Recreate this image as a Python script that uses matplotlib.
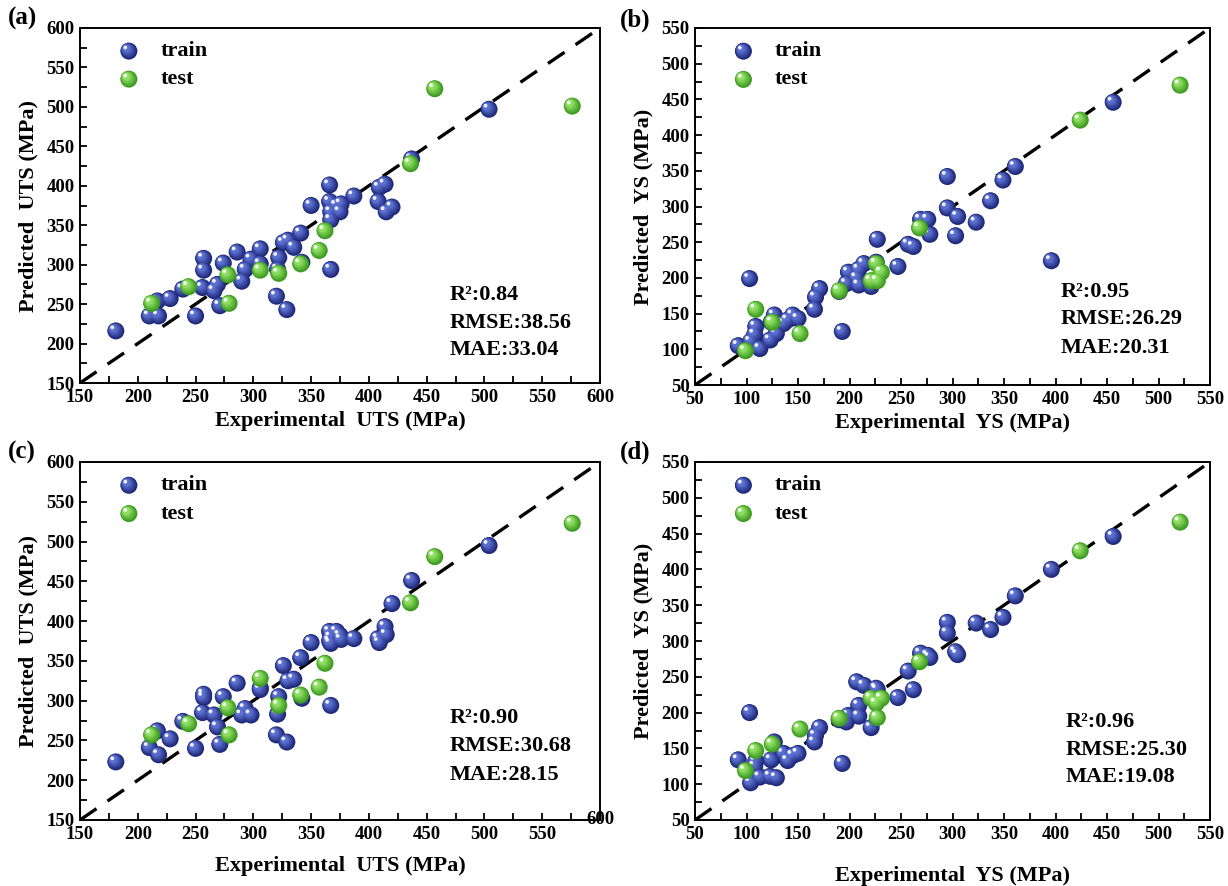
import numpy as np
import matplotlib
matplotlib.use("Agg")
import matplotlib.pyplot as plt
import matplotlib.colors as mcolors
from matplotlib.transforms import offset_copy

plt.rcParams['font.family'] = ['Liberation Serif', 'DejaVu Serif']
plt.rcParams['font.weight'] = 'bold'

# ---- data ----
uts_exp_train = [181, 210, 218, 217, 228, 239, 250, 256, 257, 257, 266, 269, 271, 274, 286, 290,
                 293, 298, 306, 306, 320, 321, 322, 326, 330, 329, 335, 341, 342, 350, 366, 366,
                 367, 367, 367, 372, 375, 376, 387, 408, 409, 414, 415, 420, 437, 504]
uts_pred_train_a = [216, 235, 235, 254, 257, 269, 235, 271, 293, 308, 267, 275, 248, 302, 316, 279,
                    294, 307, 320, 301, 260, 294, 309, 328, 331, 243, 322, 340, 303, 375, 401, 380,
                    357, 367, 294, 375, 367, 377, 387, 380, 398, 402, 367, 373, 434, 497]
uts_pred_train_c = [223, 241, 232, 262, 252, 274, 240, 285, 304, 308, 282, 267, 245, 305, 322, 282,
                    290, 282, 314, 316, 257, 283, 305, 344, 325, 248, 327, 354, 303, 373, 387, 375,
                    372, 380, 294, 387, 382, 377, 378, 378, 373, 393, 383, 422, 451, 495]
uts_exp_test = [212, 244, 278, 279, 306, 322, 341, 357, 362, 436, 457, 576]
uts_pred_test_a = [251, 272, 287, 251, 293, 289, 301, 318, 343, 428, 523, 501]
uts_pred_test_c = [257, 271, 291, 257, 328, 294, 307, 317, 347, 423, 481, 523]

ys_exp_train = [92, 103, 104, 108, 109, 113, 123, 124, 127, 129, 136, 140, 145, 150, 166, 167,
                171, 190, 193, 197, 199, 207, 209, 209, 214, 221, 226, 227, 247, 257, 262, 269,
                276, 278, 295, 295, 303, 305, 323, 337, 349, 361, 396, 456]
ys_pred_train_b = [105, 199, 111, 121, 132, 101, 113, 138, 148, 122, 136, 141, 148, 143, 156, 173,
                   185, 181, 125, 192, 208, 200, 190, 212, 220, 188, 222, 254, 216, 247, 244, 282,
                   282, 261, 342, 298, 259, 286, 278, 308, 337, 356, 224, 446]
ys_pred_train_d = [134, 200, 102, 125, 132, 110, 111, 134, 159, 109, 143, 133, 140, 143, 159, 168,
                   179, 190, 129, 187, 196, 243, 195, 210, 238, 179, 234, 232, 221, 258, 232, 283,
                   280, 277, 326, 311, 285, 281, 325, 316, 333, 363, 400, 446]
ys_exp_test = [99, 109, 125, 152, 190, 221, 226, 227, 231, 268, 424, 521]
ys_pred_test_b = [98, 156, 138, 122, 182, 196, 220, 196, 208, 270, 421, 470]
ys_pred_test_d = [119, 147, 156, 177, 192, 220, 213, 193, 220, 271, 426, 466]

metrics = {'a': ('0.84', '38.56', '33.04'), 'b': ('0.95', '26.29', '20.31'),
           'c': ('0.90', '30.68', '28.15'), 'd': ('0.96', '25.30', '19.08')}

BLUE = ('#1d2879', '#5b6fcf')
GREEN = ('#3c9a1f', '#8ede63')


def spheres(ax, x, y, cols, s=150, transform=None, n=6):
    # fake shaded balls: stacked circles shifted toward the upper left
    base = transform if transform is not None else ax.transData
    dark = np.array(mcolors.to_rgb(cols[0]))
    light = np.array(mcolors.to_rgb(cols[1]))
    R = np.sqrt(s) / 2
    for i in range(n):
        t = i / (n - 1)
        r = 1 - 0.55 * t
        off = (1 - r) * R * 0.55
        tr = offset_copy(base, fig=ax.figure, x=-off, y=off, units='points')
        c = dark * (1 - t) + light * t
        ax.scatter(x, y, s=s * r * r, color=c, edgecolors='none', transform=tr,
                   zorder=3, clip_on=False)
    off = R * 0.42
    tr = offset_copy(base, fig=ax.figure, x=-off, y=off, units='points')
    ax.scatter(x, y, s=s * 0.05, color='white', alpha=0.9, edgecolors='none',
               transform=tr, zorder=3, clip_on=False)


def panel(ax, xtr, ytr, xte, yte, lo, hi, prop, key, mpos):
    ax.plot([lo, hi], [lo, hi], color='black', lw=2.4, dashes=(6, 4), zorder=2)
    spheres(ax, xtr, ytr, BLUE)
    spheres(ax, xte, yte, GREEN)
    ax.set_xlim(lo, hi)
    ax.set_ylim(lo, hi)
    ticks = np.arange(lo, hi + 1, 50)
    ax.set_xticks(ticks)
    ax.set_yticks(ticks)
    ax.set_xticks(np.arange(lo + 25, hi, 50), minor=True)
    ax.set_yticks(np.arange(lo + 25, hi, 50), minor=True)
    ax.tick_params(which='both', direction='in', length=5, width=1.3,
                   labelsize=13.5, top=False, right=False, pad=4)
    for lab in ax.get_xticklabels() + ax.get_yticklabels():
        lab.set_fontweight('bold')
    for sp in ax.spines.values():
        sp.set_linewidth(1.4)
    ax.set_xlabel('Experimental  %s (MPa)' % prop, fontsize=16, fontweight='bold', labelpad=4)
    ax.set_ylabel('Predicted  %s (MPa)' % prop, fontsize=16, fontweight='bold', labelpad=6)
    # legend
    spheres(ax, [0.094], [0.935], BLUE, transform=ax.transAxes)
    spheres(ax, [0.094], [0.856], GREEN, transform=ax.transAxes)
    ax.text(0.154, 0.935, 'train', transform=ax.transAxes, fontsize=16,
            fontweight='bold', va='center')
    ax.text(0.154, 0.856, 'test', transform=ax.transAxes, fontsize=16,
            fontweight='bold', va='center')
    r2, rmse, mae = metrics[key]
    mx, my = mpos
    ax.text(mx, my[0], 'R\u00b2:' + r2, transform=ax.transAxes, fontsize=16,
            fontweight='bold', va='center')
    ax.text(mx, my[1], 'RMSE:' + rmse, transform=ax.transAxes, fontsize=16,
            fontweight='bold', va='center')
    ax.text(mx, my[2], 'MAE:' + mae, transform=ax.transAxes, fontsize=16,
            fontweight='bold', va='center')


W, H = 1228, 886
fig = plt.figure(figsize=(W / 100, H / 100), dpi=100)
ax_a = fig.add_axes([80 / W, 1 - 383 / H, 520 / W, 355 / H])
ax_b = fig.add_axes([695 / W, 1 - 385 / H, 515 / W, 357 / H])
ax_c = fig.add_axes([80 / W, 1 - 820 / H, 520 / W, 358 / H])
ax_d = fig.add_axes([695 / W, 1 - 820 / H, 515 / W, 358 / H])

panel(ax_a, uts_exp_train, uts_pred_train_a, uts_exp_test, uts_pred_test_a,
      150, 600, 'UTS', 'a', (0.71, (0.248, 0.170, 0.093)))
panel(ax_b, ys_exp_train, ys_pred_train_b, ys_exp_test, ys_pred_test_b,
      50, 550, 'YS', 'b', (0.71, (0.260, 0.185, 0.104)))
panel(ax_c, uts_exp_train, uts_pred_train_c, uts_exp_test, uts_pred_test_c,
      150, 600, 'UTS', 'c', (0.71, (0.285, 0.207, 0.126)))
panel(ax_d, ys_exp_train, ys_pred_train_d, ys_exp_test, ys_pred_test_d,
      50, 550, 'YS', 'd', (0.72, (0.274, 0.196, 0.120)))

# odd 600 label in panel (c)
labs = [str(v) for v in range(150, 601, 50)]
labs[-1] = ''
ax_c.set_xticklabels(labs, fontweight='bold')
ax_c.text(1.0, 0.0, '600', transform=ax_c.transAxes, fontsize=13.5,
          fontweight='bold', ha='center', va='center')
ax_c.xaxis.labelpad = 10
ax_d.xaxis.labelpad = 17

fig.text(8 / W, 1 - 18 / H, '(a)', fontsize=18, fontweight='bold', va='center')
fig.text(620 / W, 1 - 20 / H, '(b)', fontsize=18, fontweight='bold', va='center')
fig.text(8 / W, 1 - 452 / H, '(c)', fontsize=18, fontweight='bold', va='center')
fig.text(620 / W, 1 - 452 / H, '(d)', fontsize=18, fontweight='bold', va='center')

fig.savefig('out.png', dpi=100)
